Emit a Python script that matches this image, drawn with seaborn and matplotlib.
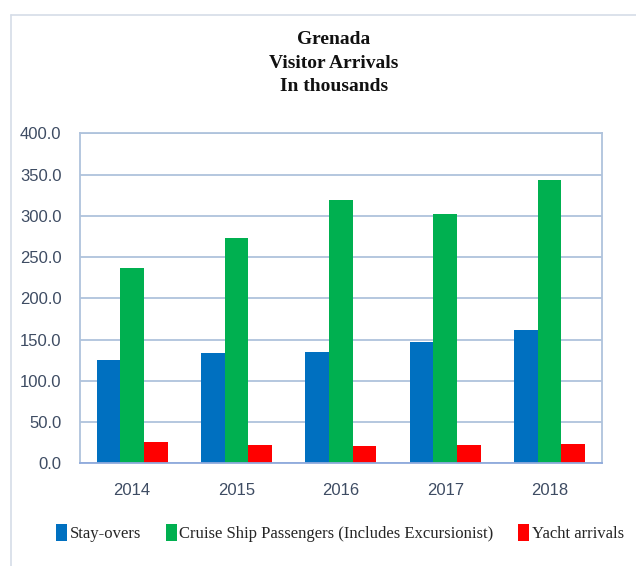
#!/usr/bin/env python3
"""Grenada visitor arrivals (thousands), grouped bars by year."""

import matplotlib

matplotlib.use("Agg")
import matplotlib.pyplot as plt
import pandas as pd
import seaborn as sns
from matplotlib.lines import Line2D
from matplotlib.patches import Patch

years = ["2014", "2015", "2016", "2017", "2018"]
series = ["Stay-overs", "Cruise Ship Passengers (Includes Excursionist)", "Yacht arrivals"]
stay_overs = [125.0, 133.9, 135.5, 147.2, 162.1]
cruise_passengers = [236.7, 273.0, 318.7, 301.7, 343.1]
yacht_arrivals = [25.4, 22.2, 21.0, 22.2, 23.8]
y_ticks = [0, 50, 100, 150, 200, 250, 300, 350, 400]
colors = ["#0070C0", "#00B050", "#FF0000"]

GRID = "#AFC3DC"
TICK_TEXT = "#3E4C63"
SERIF = ["Liberation Serif", "DejaVu Serif"]

sns.set_style("white")
plt.rcParams["font.family"] = ["Liberation Sans", "DejaVu Sans"]

rows = []
for name, values in zip(series, [stay_overs, cruise_passengers, yacht_arrivals]):
    for year, v in zip(years, values):
        rows.append({"Year": year, "Series": name, "Value": v})
df = pd.DataFrame(rows)

fig = plt.figure(figsize=(6.36, 5.66), dpi=100)
ax = fig.add_axes([80 / 636, 1 - 463.3 / 566, (601.7 - 80) / 636, (463.3 - 133.3) / 566])

sns.barplot(
    data=df, x="Year", y="Value", hue="Series", hue_order=series, order=years,
    palette=colors, width=0.68, gap=0, saturation=1, linewidth=0, legend=False, ax=ax,
)

ax.set_xlim(-0.5, len(years) - 0.5)
ax.set_ylim(0, 400)
ax.set_yticks(y_ticks)
ax.set_yticklabels([f"{t:.1f}" for t in y_ticks])
ax.set_xlabel("")
ax.set_ylabel("")
ax.yaxis.grid(True, color=GRID, linewidth=1.3)
ax.set_axisbelow(True)
for spine in ax.spines.values():
    spine.set_visible(True)
    spine.set_color(GRID)
    spine.set_linewidth(1.3)
ax.spines["bottom"].set_color("#8FAADC")
ax.tick_params(axis="y", length=4.3, width=1.3, color=GRID, labelsize=12, labelcolor=TICK_TEXT, pad=9)
ax.tick_params(axis="x", length=0, labelsize=12, labelcolor=TICK_TEXT, pad=14)

fig.text(334 / 636, 1 - 31 / 566, "Grenada\nVisitor Arrivals\nIn thousands",
         ha="center", va="top", family=SERIF,
         fontweight="bold", fontsize=14, linespacing=1.5, color="#111111")

handles = [Patch(facecolor=c, edgecolor="none") for c in colors]
fig.legend(handles, series, loc="center", bbox_to_anchor=(340 / 636, 1 - 533 / 566),
           ncol=3, frameon=False, handlelength=0.65, handleheight=1.25, handletextpad=0.15,
           columnspacing=1.5, prop={"family": SERIF, "size": 12})

# light outer frame of the chart area
fig.add_artist(Line2D([11 / 636, 1], [1 - 15 / 566] * 2, transform=fig.transFigure, color="#D5DDE8", lw=1.2))
fig.add_artist(Line2D([11 / 636] * 2, [0, 1 - 15 / 566], transform=fig.transFigure, color="#D5DDE8", lw=1.2))

fig.savefig("out.png", dpi=100)
